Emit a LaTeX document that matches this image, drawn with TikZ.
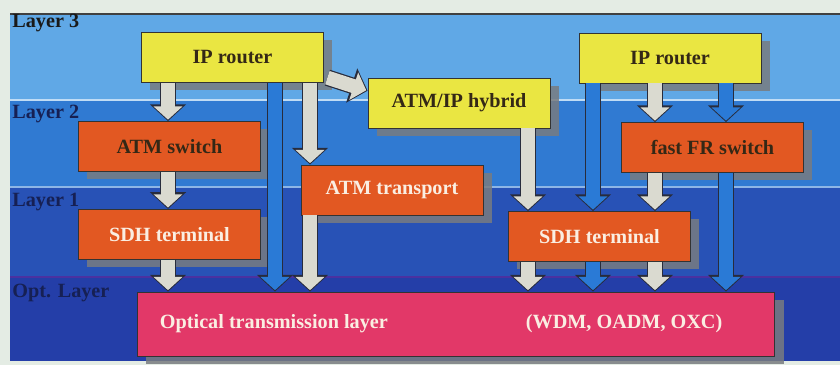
\documentclass[tikz,border=0pt]{standalone}
\usepackage{fontspec}
\setmainfont{Liberation Serif}
\usetikzlibrary{positioning, arrows.meta, shadows}

\definecolor{bgpaper}{RGB}{228,236,228}
\definecolor{layerthree}{RGB}{96,168,230}
\definecolor{layertwo}{RGB}{48,122,210}
\definecolor{layerone}{RGB}{40,82,182}
\definecolor{layeropt}{RGB}{36,62,168}
\definecolor{boxyellow}{RGB}{234,230,66}
\definecolor{boxorange}{RGB}{226,88,34}
\definecolor{boxpink}{RGB}{226,56,104}
\definecolor{arrgrey}{RGB}{218,218,208}
\definecolor{arrblue}{RGB}{42,122,214}
\definecolor{arredge}{RGB}{40,44,60}
\definecolor{shadowgrey}{RGB}{120,124,128}
\definecolor{txtdark}{RGB}{52,40,22}
\definecolor{txtlight}{RGB}{250,238,226}
\definecolor{lblnavy}{RGB}{22,32,84}

\tikzset{
	unit/.style={draw=black!80, line width=0.5pt, minimum width=3.64cm, minimum height=1cm,
		inner sep=0pt, font=\bfseries\fontsize{11.5}{13}\selectfont,
		drop shadow={shadow xshift=5pt, shadow yshift=-4.5pt, fill=shadowgrey, opacity=0.85}},
	ipbox/.style={unit, fill=boxyellow, text=txtdark},
	swbox/.style={unit, fill=boxorange, text=txtdark},
	trbox/.style={unit, fill=boxorange, text=txtlight},
	opttext/.style={inner sep=0pt, text=txtlight, font=\bfseries\fontsize{11.5}{13}\selectfont},
	laylbl/.style={anchor=west, inner sep=0pt, text=lblnavy, font=\bfseries\fontsize{11.5}{13}\selectfont},
	fatarr/.style={draw=#1, line width=8pt, shorten >=0.8pt, -{Triangle[width=16pt,length=7.5pt]},
		preaction={draw=arredge, line width=9.4pt, shorten >=0pt, -{Triangle[width=20pt,length=9.5pt]}}},
	garrow/.style={fatarr=arrgrey},
	barrow/.style={fatarr=arrblue}
}

\begin{document}
\begin{tikzpicture}[x=0.02cm, y=-0.02cm]
	\useasboundingbox (0,0) rectangle (840,365);
	% layer bands
	\fill[bgpaper] (0,0) rectangle (840,365);
	\fill[layerthree] (10,14) rectangle (840,99);
	\fill[layertwo] (10,101) rectangle (840,186);
	\fill[layerone] (10,188) rectangle (840,276);
	\fill[layeropt] (10,278) rectangle (840,361);
	\fill[white!60!layerthree] (10,99) rectangle (840,101);
	\fill[white!45!layertwo] (10,186) rectangle (840,188);
	\fill[violet!40!layerone] (10,276) rectangle (840,278);
	\draw[line width=0.8pt, black!75] (10,14) -- (840,14);
	\draw node (l3)[laylbl, text=black!90] at (12,23) {Layer 3};
	\draw node (l2)[laylbl] at (12,114) {Layer 2};
	\draw node (l1)[laylbl] at (12,202) {Layer 1};
	\draw node (l0)[laylbl] at (12,293) {Opt. Layer};

	% units
	\draw node (ipA)[ipbox] at (232.5,57.5) {IP router};
	\draw node (hyb)[ipbox] at (459,103) {ATM/IP hybrid};
	\draw node (ipB)[ipbox] at (670,58) {IP router};
	\draw node (atmS)[swbox] at (169.5,146.5) {ATM switch};
	\draw node (sdhA)[trbox, below=0.74cm of atmS] {SDH terminal};
	\draw node (frS)[swbox] at (712.5,147.5) {fast FR switch};
	\draw node (atmT)[trbox] at (392,190) {ATM transport};
	\draw node (sdhB)[trbox] at (599.5,236.5) {SDH terminal};
	\draw node (opt)[unit, fill=boxpink, minimum width=12.76cm, minimum height=1.28cm] at (456,324) {};
	\draw node (optL)[opttext, anchor=west, right=0.46cm of opt.west] {Optical transmission layer};
	\draw node (optR)[opttext, anchor=west, right=7.78cm of opt.west] {(WDM, OADM, OXC)};

	% left stack
	\draw[garrow] (168,0 |- ipA.south) -- (168,0 |- atmS.north);
	\draw[garrow] (168,0 |- atmS.south) -- (168,0 |- sdhA.north);
	\draw[garrow] (168,0 |- sdhA.south) -- (168,0 |- opt.north);
	\draw[barrow] (275,0 |- ipA.south) -- (275,0 |- opt.north);
	\draw[garrow] (310,0 |- ipA.south) -- (310,0 |- atmT.north);
	\draw[garrow] (310,0 |- atmT.south) -- (310,0 |- opt.north);
	\draw[garrow] ([xshift=2pt,yshift=3pt]ipA.south east) -- ([yshift=7pt]hyb.west);
	% right stack
	\draw[garrow] (528,0 |- hyb.south) -- (528,0 |- sdhB.north);
	\draw[barrow] (593,0 |- ipB.south) -- (593,0 |- sdhB.north);
	\draw[garrow] (655,0 |- ipB.south) -- (655,0 |- frS.north);
	\draw[barrow] (726,0 |- ipB.south) -- (726,0 |- frS.north);
	\draw[garrow] (655,0 |- frS.south) -- (655,0 |- sdhB.north);
	\draw[barrow] (726,0 |- frS.south) -- (726,0 |- opt.north);
	\draw[garrow] (528,0 |- sdhB.south) -- (528,0 |- opt.north);
	\draw[barrow] (593,0 |- sdhB.south) -- (593,0 |- opt.north);
	\draw[garrow] (655,0 |- sdhB.south) -- (655,0 |- opt.north);
\end{tikzpicture}
\end{document}
